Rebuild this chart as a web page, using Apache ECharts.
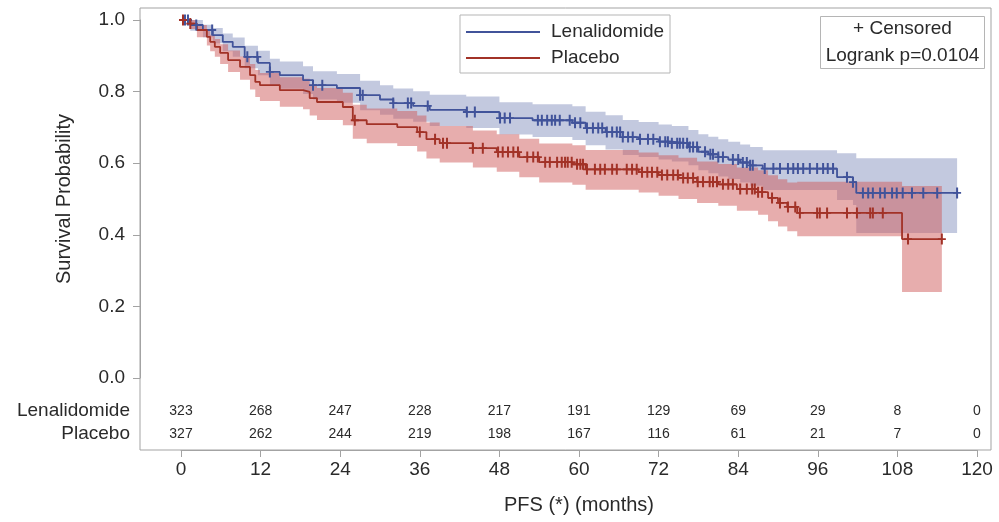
<!DOCTYPE html>
<html>
<head>
<meta charset="utf-8">
<script src="https://cdn.jsdelivr.net/npm/echarts@6/dist/echarts.min.js"></script>
<style>
  html, body { margin: 0; padding: 0; background: #fff; }
  #chart { width: 999px; height: 522px; }
</style>
</head>
<body>
<div id="chart"></div>
<script>
// Follow-up time ticks (months) and numbers at risk at each tick
const timeTicks = [0, 12, 24, 36, 48, 60, 72, 84, 96, 108, 120];
const lenAtRisk = [323, 268, 247, 228, 217, 191, 129, 69, 29, 8, 0];
const plaAtRisk = [327, 262, 244, 219, 198, 167, 116, 61, 21, 7, 0];

// Lenalidomide: Kaplan-Meier step points with pointwise confidence limits
const lenTimes = [0, 1.4, 3.3, 4.8, 6.3, 7.8, 9.6, 11.6, 13.4, 14.9, 18.4, 19.9, 23.5, 27, 30, 32, 35, 37.5, 43, 48, 53, 59, 61, 64, 66.6, 69, 72, 74, 76.5, 78, 79.5, 81, 82.5, 84.3, 85.8, 87.7, 98.9, 101.3, 101.8];
const lenSurv  = [1, 0.986, 0.972, 0.958, 0.939, 0.925, 0.897, 0.88, 0.855, 0.846, 0.832, 0.818, 0.81, 0.79, 0.778, 0.768, 0.76, 0.749, 0.743, 0.726, 0.72, 0.713, 0.698, 0.687, 0.673, 0.667, 0.66, 0.656, 0.645, 0.632, 0.625, 0.617, 0.61, 0.602, 0.594, 0.585, 0.561, 0.547, 0.517];
const lenLower = [1, 0.97, 0.952, 0.935, 0.913, 0.897, 0.865, 0.846, 0.818, 0.808, 0.793, 0.778, 0.769, 0.748, 0.735, 0.724, 0.716, 0.704, 0.698, 0.68, 0.673, 0.665, 0.65, 0.638, 0.623, 0.617, 0.61, 0.605, 0.594, 0.58, 0.572, 0.563, 0.556, 0.546, 0.537, 0.525, 0.497, 0.483, 0.405];
const lenUpper = [1, 1, 0.987, 0.978, 0.962, 0.951, 0.928, 0.914, 0.892, 0.884, 0.871, 0.857, 0.849, 0.83, 0.818, 0.809, 0.801, 0.791, 0.786, 0.77, 0.765, 0.759, 0.744, 0.734, 0.721, 0.715, 0.708, 0.704, 0.693, 0.681, 0.674, 0.667, 0.66, 0.652, 0.645, 0.636, 0.628, 0.628, 0.614];
const lenCensored = [0.6, 1.05, 2.3, 4.7, 10.0, 11.5, 13.4, 19.9, 21.3, 27.0, 27.4, 32.0, 34.2, 34.7, 37.2, 43.1, 44.3, 48.1, 48.8, 49.6, 53.8, 54.4, 55.2, 55.9, 56.4, 57.1, 58.6, 59.4, 60.2, 61.2, 62.1, 62.9, 63.5, 64.2, 65.0, 65.7, 66.2, 66.6, 67.4, 68.1, 69.2, 70.4, 71.2, 72.2, 73.0, 73.4, 74.0, 74.8, 75.2, 75.7, 76.3, 76.7, 77.2, 77.8, 79.0, 79.8, 80.2, 81.0, 81.7, 83.2, 84.0, 84.7, 85.3, 85.8, 86.2, 88.0, 89.3, 90.3, 91.5, 92.3, 93.0, 93.8, 94.8, 95.9, 96.8, 97.5, 98.3, 100.4, 101.3, 102.8, 103.6, 104.3, 105.4, 106.1, 107.2, 107.9, 108.8, 110.2, 111.9, 114.0, 117.0];

// Placebo: Kaplan-Meier step points with pointwise confidence limits
const plaTimes = [0, 1.4, 2.4, 3.9, 4.4, 5.1, 5.9, 7.1, 8.9, 10.4, 11.2, 11.9, 14.9, 18.4, 19.4, 20.5, 24.4, 25.9, 28, 32.6, 35.6, 37, 39, 44, 47.6, 51, 54, 59, 61, 69, 72, 75, 77.8, 81, 83.8, 87, 88.5, 90, 91.4, 92.9, 108.7];
const plaSurv  = [1, 0.99, 0.972, 0.953, 0.939, 0.925, 0.908, 0.888, 0.869, 0.846, 0.827, 0.818, 0.804, 0.799, 0.782, 0.771, 0.757, 0.72, 0.709, 0.701, 0.687, 0.667, 0.656, 0.642, 0.631, 0.617, 0.603, 0.597, 0.583, 0.575, 0.567, 0.559, 0.548, 0.541, 0.528, 0.519, 0.503, 0.489, 0.478, 0.461, 0.388];
const plaLower = [1, 0.975, 0.952, 0.929, 0.913, 0.897, 0.877, 0.855, 0.833, 0.806, 0.785, 0.774, 0.758, 0.751, 0.733, 0.721, 0.706, 0.668, 0.656, 0.648, 0.633, 0.613, 0.602, 0.588, 0.576, 0.561, 0.546, 0.54, 0.526, 0.518, 0.509, 0.5, 0.489, 0.481, 0.467, 0.456, 0.438, 0.423, 0.41, 0.396, 0.24];
const plaUpper = [1, 1, 0.986, 0.97, 0.959, 0.947, 0.932, 0.915, 0.898, 0.877, 0.86, 0.852, 0.84, 0.836, 0.82, 0.81, 0.797, 0.763, 0.753, 0.746, 0.733, 0.714, 0.704, 0.691, 0.681, 0.668, 0.655, 0.65, 0.637, 0.63, 0.622, 0.615, 0.605, 0.598, 0.588, 0.58, 0.566, 0.555, 0.546, 0.548, 0.536];
const plaCensored = [0.3, 1.4, 26.2, 36.0, 38.3, 39.5, 40.1, 44.0, 45.5, 47.8, 48.5, 49.3, 50.1, 50.8, 52.2, 53.1, 53.8, 54.9, 55.6, 56.7, 57.4, 57.9, 58.3, 58.9, 59.7, 60.2, 60.6, 61.2, 62.4, 63.2, 63.9, 65.0, 65.7, 67.2, 68.0, 68.7, 69.5, 70.3, 71.0, 71.8, 72.5, 73.3, 74.2, 74.9, 75.7, 76.4, 77.2, 77.9, 78.7, 79.7, 80.2, 80.8, 81.7, 82.5, 83.2, 84.3, 85.3, 86.1, 86.5, 87.0, 87.6, 89.1, 90.3, 91.5, 92.6, 93.3, 95.9, 96.3, 97.4, 100.4, 101.9, 103.9, 104.3, 105.8, 109.6, 114.7];

const FONT = '"Liberation Sans", Arial, sans-serif';
const TEXT = '#2a2a2a';
const FRAME = '#a3a3a3';
const LEN_LINE = '#41539a';
const PLA_LINE = '#a23227';
const LEN_BAND = 'rgba(111,126,179,0.42)';
const PLA_BAND = 'rgba(208,91,91,0.5)';
const CENSOR_SYMBOL = 'path://M-1,-5.5H1V-0.9H4V0.9H1V5.5H-1V0.9H-4V-0.9H-1Z';

// Survival value in effect at time t (right-continuous step function)
function survivalAt(times, surv, t) {
  let k = 0;
  for (let i = 0; i < times.length; i++) if (times[i] <= t) k = i;
  return surv[k];
}

function stepLine(name, times, surv, censored, color) {
  const last = censored[censored.length - 1];
  const pts = times.map((t, i) => [t, surv[i]]);
  pts.push([last, survivalAt(times, surv, last)]);
  return {
    type: 'line', name, step: 'end', data: pts,
    showSymbol: false, symbol: 'none', z: 5,
    lineStyle: { color, width: 1.8 }, itemStyle: { color },
    xAxisIndex: 0, yAxisIndex: 0
  };
}

function censorMarks(name, times, surv, censored, color) {
  return {
    type: 'scatter', name, data: censored.map(t => [t, survivalAt(times, surv, t)]),
    symbol: CENSOR_SYMBOL, symbolSize: [8, 11], z: 6, silent: true,
    itemStyle: { color, opacity: 1 },
    xAxisIndex: 0, yAxisIndex: 0
  };
}

// Confidence band drawn as one step-shaped polygon through the axis scales
function band(name, times, lower, upper, endT, fill, z) {
  return {
    type: 'custom', name, silent: true, z,
    xAxisIndex: 0, yAxisIndex: 0,
    data: [[0, 0]],
    renderItem(params, api) {
      const top = [], bottom = [];
      for (let i = 0; i < times.length; i++) {
        const t0 = times[i];
        const t1 = i + 1 < times.length ? times[i + 1] : endT;
        top.push(api.coord([t0, upper[i]]), api.coord([t1, upper[i]]));
        bottom.push(api.coord([t0, lower[i]]), api.coord([t1, lower[i]]));
      }
      return {
        type: 'polygon',
        shape: { points: top.concat(bottom.reverse()) },
        style: { fill: fill }
      };
    }
  };
}

function riskAxis(label, counts, offset) {
  return {
    type: 'value', gridIndex: 0, position: 'bottom', offset,
    min: 0, max: 120, interval: 12,
    name: label, nameLocation: 'start', nameGap: 51,
    nameTextStyle: { fontFamily: FONT, fontSize: 19, color: TEXT, verticalAlign: 'middle' },
    axisLine: { show: false, onZero: false }, axisTick: { show: false }, splitLine: { show: false },
    axisLabel: {
      margin: 0, verticalAlign: 'middle', fontFamily: FONT, fontSize: 14, color: TEXT,
      formatter: v => String(counts[timeTicks.indexOf(v)])
    }
  };
}

const chart = echarts.init(document.getElementById('chart'), null, { renderer: 'canvas' });

chart.setOption({
  animation: false,
  backgroundColor: '#fff',
  grid: [
    { left: 181, right: 22, top: 20, height: 358, containLabel: false },
    { left: 140, right: 8, top: 8, height: 442, show: true, borderColor: FRAME, borderWidth: 1, backgroundColor: 'transparent' }
  ],
  xAxis: [
    {
      type: 'value', gridIndex: 0, position: 'bottom', offset: 72,
      min: 0, max: 120, interval: 12,
      name: 'PFS (*) (months)', nameLocation: 'middle', nameGap: 45,
      nameTextStyle: { fontFamily: FONT, fontSize: 20, color: TEXT },
      axisLine: { show: true, onZero: false, lineStyle: { color: FRAME, width: 1 } },
      axisTick: { show: true, inside: false, length: 7, lineStyle: { color: FRAME } },
      splitLine: { show: false },
      axisLabel: { margin: 10, fontFamily: FONT, fontSize: 19, color: TEXT,
                   formatter: v => String(v) }
    },
    riskAxis('Lenalidomide', lenAtRisk, 33),
    riskAxis('Placebo', plaAtRisk, 56),
    { type: 'value', gridIndex: 1, show: false, min: 0, max: 1 }
  ],
  yAxis: [
    {
      type: 'value', gridIndex: 0, position: 'left', offset: 41,
      min: 0, max: 1, interval: 0.2,
      name: 'Survival Probability', nameLocation: 'middle', nameGap: 66,
      nameTextStyle: { fontFamily: FONT, fontSize: 20, color: TEXT },
      axisLine: { show: true, onZero: false, lineStyle: { color: FRAME, width: 1 } },
      axisTick: { show: true, inside: false, length: 7, lineStyle: { color: FRAME } },
      splitLine: { show: false },
      axisLabel: { margin: 15, fontFamily: FONT, fontSize: 19, color: TEXT,
                   formatter: v => v.toFixed(1) }
    },
    { type: 'value', gridIndex: 1, show: false, min: 0, max: 1 }
  ],
  legend: {
    data: [{ name: 'Lenalidomide', icon: 'rect' }, { name: 'Placebo', icon: 'rect' }],
    orient: 'vertical', left: 460, top: 15,
    itemWidth: 74, itemHeight: 2, itemGap: 6,
    padding: [7, 6, 5, 6],
    borderColor: '#b5b5b5', borderWidth: 1,
    selectedMode: false,
    textStyle: { fontFamily: FONT, fontSize: 19, color: TEXT, lineHeight: 20, padding: [0, 0, 0, 6] }
  },
  graphic: [
    {
      type: 'group', left: 820, top: 16,
      children: [
        { type: 'rect', shape: { x: 0, y: 0, width: 164, height: 52 },
          style: { fill: '#fff', stroke: '#b5b5b5', lineWidth: 1 } },
        { type: 'text', x: 82, y: 12, style: { text: '+ Censored', fontFamily: FONT, fontSize: 19,
          fill: TEXT, align: 'center', verticalAlign: 'middle' } },
        { type: 'text', x: 82, y: 39, style: { text: 'Logrank p=0.0104', fontFamily: FONT, fontSize: 19,
          fill: TEXT, align: 'center', verticalAlign: 'middle' } }
      ]
    }
  ],
  series: [
    band('Lenalidomide CI', lenTimes, lenLower, lenUpper, lenCensored[lenCensored.length - 1], LEN_BAND, 1),
    band('Placebo CI', plaTimes, plaLower, plaUpper, plaCensored[plaCensored.length - 1], PLA_BAND, 2),
    stepLine('Lenalidomide', lenTimes, lenSurv, lenCensored, LEN_LINE),
    stepLine('Placebo', plaTimes, plaSurv, plaCensored, PLA_LINE),
    censorMarks('Lenalidomide censored', lenTimes, lenSurv, lenCensored, LEN_LINE),
    censorMarks('Placebo censored', plaTimes, plaSurv, plaCensored, PLA_LINE)
  ]
});
</script>
</body>
</html>
